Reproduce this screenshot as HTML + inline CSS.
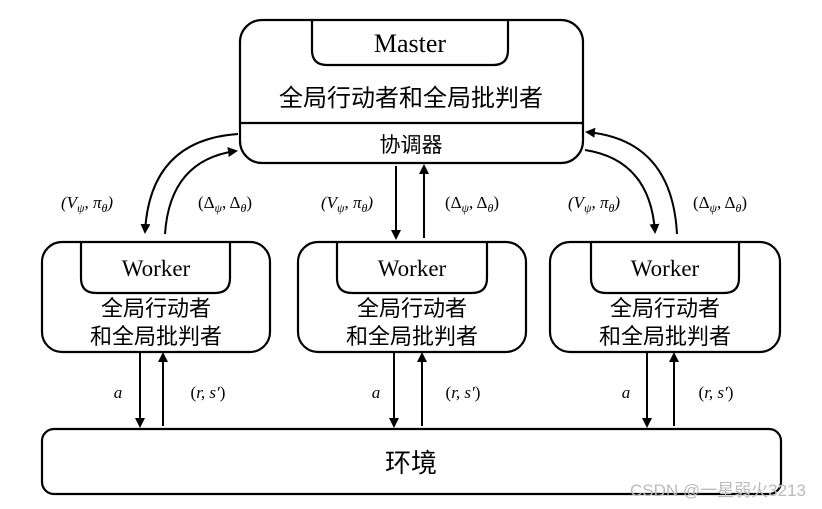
<!DOCTYPE html>
<html><head><meta charset="utf-8"><style>
body{margin:0;background:#fff;}
svg{display:block}
.cn{font-family:"Liberation Serif","Noto Sans CJK SC",sans-serif;}
.m{font-family:"Liberation Serif",serif;font-style:italic;font-size:17px}
</style></head><body>
<svg width="822" height="509" viewBox="0 0 822 509" xmlns="http://www.w3.org/2000/svg">
<defs><marker id="a" markerWidth="10" markerHeight="10" refX="8" refY="5" orient="auto" markerUnits="userSpaceOnUse"><path d="M0,0 L10,5 L0,10 z" fill="#000"/></marker></defs>
<g fill="none" stroke="#000" stroke-width="2.2">
<rect x="240" y="20" width="343" height="143" rx="22"/>
<path d="M312,20 V50 Q312,65 327,65 H493 Q508,65 508,50 V20"/>
<line x1="240" y1="123" x2="583" y2="123"/>
<rect x="42" y="242" width="228" height="110" rx="20"/>
<path d="M81,242 V278 Q81,293 96,293 H215 Q230,293 230,278 V242"/>
<rect x="298" y="242" width="228" height="110" rx="20"/>
<path d="M337,242 V278 Q337,293 352,293 H472 Q487,293 487,278 V242"/>
<rect x="550" y="242" width="230" height="110" rx="20"/>
<path d="M591,242 V278 Q591,293 606,293 H724 Q739,293 739,278 V242"/>
<rect x="42" y="429" width="739" height="65" rx="12"/>
</g>
<g stroke="#000" stroke-width="2" fill="none" marker-end="url(#a)">
<line x1="396" y1="166" x2="396" y2="238"/>
<line x1="424" y1="238" x2="424" y2="166"/>
<line x1="140" y1="353" x2="140" y2="426"/>
<line x1="163" y1="426" x2="163" y2="354"/>
<line x1="394" y1="353" x2="394" y2="426"/>
<line x1="422" y1="426" x2="422" y2="354"/>
<line x1="647" y1="353" x2="647" y2="426"/>
<line x1="674" y1="426" x2="674" y2="354"/>
<path d="M238,134 Q150,140 145,232"/>
<path d="M165,234 Q170,160 236,151"/>
<path d="M585,150 Q650,160 655,232"/>
<path d="M677,234 Q672,140 587,132"/>
</g>
<g class="cn" text-anchor="middle" fill="#000">
<text x="410" y="52" font-size="26">Master</text>
<text x="411" y="106" font-size="24">全局行动者和全局批判者</text>
<text x="411" y="152" font-size="21">协调器</text>
<text x="156" y="276" font-size="23">Worker</text>
<text x="156" y="316" font-size="22">全局行动者</text>
<text x="156" y="344" font-size="22">和全局批判者</text>
<text x="412" y="276" font-size="23">Worker</text>
<text x="412" y="316" font-size="22">全局行动者</text>
<text x="412" y="344" font-size="22">和全局批判者</text>
<text x="665" y="276" font-size="23">Worker</text>
<text x="665" y="316" font-size="22">全局行动者</text>
<text x="665" y="344" font-size="22">和全局批判者</text>
<text x="411" y="472" font-size="26">环境</text>
</g>
<g class="m" text-anchor="middle">
<text x="87" y="208">(V<tspan font-size="12" dy="4">ψ</tspan><tspan dy="-4">, π</tspan><tspan font-size="12" dy="4">θ</tspan><tspan dy="-4">)</tspan></text>
<text x="225" y="208"><tspan font-style="normal">(Δ</tspan><tspan font-size="12" dy="4">ψ</tspan><tspan dy="-4" font-style="normal">, Δ</tspan><tspan font-size="12" dy="4">θ</tspan><tspan dy="-4" font-style="normal">)</tspan></text>
<text x="347" y="208">(V<tspan font-size="12" dy="4">ψ</tspan><tspan dy="-4">, π</tspan><tspan font-size="12" dy="4">θ</tspan><tspan dy="-4">)</tspan></text>
<text x="472" y="208"><tspan font-style="normal">(Δ</tspan><tspan font-size="12" dy="4">ψ</tspan><tspan dy="-4" font-style="normal">, Δ</tspan><tspan font-size="12" dy="4">θ</tspan><tspan dy="-4" font-style="normal">)</tspan></text>
<text x="594" y="208">(V<tspan font-size="12" dy="4">ψ</tspan><tspan dy="-4">, π</tspan><tspan font-size="12" dy="4">θ</tspan><tspan dy="-4">)</tspan></text>
<text x="720" y="208"><tspan font-style="normal">(Δ</tspan><tspan font-size="12" dy="4">ψ</tspan><tspan dy="-4" font-style="normal">, Δ</tspan><tspan font-size="12" dy="4">θ</tspan><tspan dy="-4" font-style="normal">)</tspan></text>
<text x="118" y="398">a</text>
<text x="208" y="398"><tspan font-style="normal">(</tspan>r, s′<tspan font-style="normal">)</tspan></text>
<text x="376" y="398">a</text>
<text x="463" y="398"><tspan font-style="normal">(</tspan>r, s′<tspan font-style="normal">)</tspan></text>
<text x="626" y="398">a</text>
<text x="716" y="398"><tspan font-style="normal">(</tspan>r, s′<tspan font-style="normal">)</tspan></text>
</g>
<text x="806" y="496" text-anchor="end" font-family="Liberation Sans,Noto Sans CJK SC,sans-serif" font-size="17" fill="#bbb">CSDN @一星弱火3213</text>
</svg>
</body></html>
